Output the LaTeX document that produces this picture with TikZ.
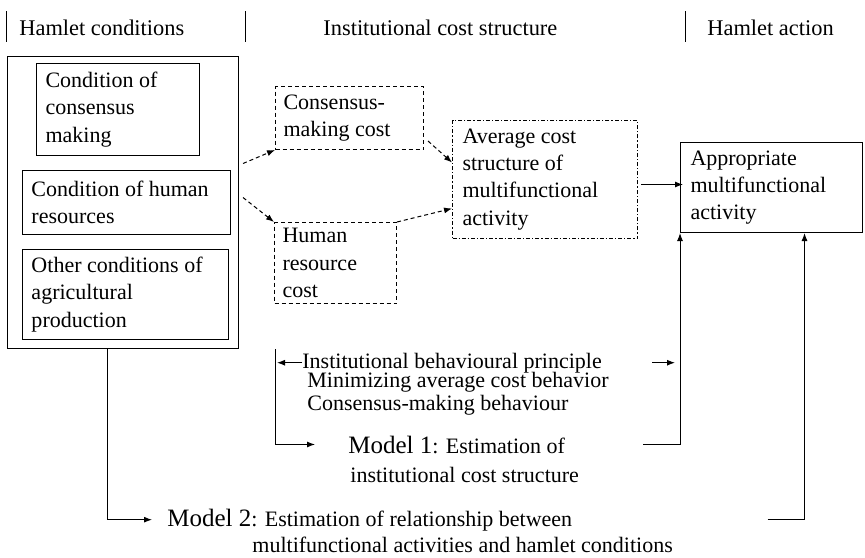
\documentclass[tikz,border=0pt]{standalone}
\usepackage{fontspec}
\setmainfont{Liberation Serif}
\usetikzlibrary{arrows.meta, calc}
\newcommand{\txtfont}{\fontsize{11}{13.6}\selectfont}
\newcommand{\modfont}{\fontsize{12.5}{14}\selectfont}

\begin{document}
\begin{tikzpicture}[x=0.5pt, y=-0.5pt,
  solidbox/.style={draw, line width=0.5pt, anchor=north west, align=flush left, inner xsep=4.5pt, inner ysep=0pt, font=\txtfont},
  dashbox/.style={solidbox, dash pattern=on 2pt off 1.5pt},
  dotbox/.style={solidbox, dash pattern=on 2pt off 1pt on 0.6pt off 1pt},
  arr/.style={line width=0.5pt, -{Latex[length=4pt, width=3pt]}},
  dasharr/.style={arr, dash pattern=on 2pt off 1.5pt},
  linetext/.style={anchor=base west, inner sep=0pt, font=\txtfont},
  headtext/.style={anchor=west, inner sep=0pt, font=\fontsize{11.2}{13}\selectfont}]
\useasboundingbox (0,0) rectangle (865,557);
% column heads
\draw[line width=0.5pt] (6,11) -- (6,42) (245,11) -- (245,42) (685,11) -- (685,42);
\node[headtext] (hcond) at (19,28) {Hamlet conditions};
\node[headtext] (inst) at (323,28) {Institutional cost structure};
\node[headtext] (hact) at (707,28) {Hamlet action};
% hamlet conditions
\node[solidbox, minimum width=115.5pt, minimum height=146pt, inner sep=0pt] (hamlet) at (7,56) {};
\node[solidbox, text width=72.5pt, minimum height=46pt] (consc) at (36,63) {Condition of\\consensus\\making};
\node[solidbox, text width=95pt, minimum height=32pt] (humc) at (22,170) {Condition of human\\resources};
\node[solidbox, text width=94pt, minimum height=45pt] (othc) at (22,249) {Other conditions of\\agricultural\\production};
% cost structure
\node[dashbox, inner xsep=4pt, text width=66pt, minimum height=31.5pt] (cmcost) at (275,86) {Consensus-\\making cost};
\node[dashbox, inner xsep=4pt, text width=53pt, minimum height=40.5pt] (hrcost) at (274,222) {Human\\resource\\cost};
\node[dotbox, inner xsep=5pt, text width=82.5pt, minimum height=59pt] (avgcost) at (452,120) {Average cost\\structure of\\multifunctional\\activity};
% hamlet action
\node[solidbox, inner xsep=5pt, text width=81pt, minimum height=45pt] (appact) at (680,142) {Appropriate\\multifunctional\\activity};
% models
\node[linetext] (prin) at (302,368) {Institutional behavioural principle};
\node[linetext] (minb) at (307,387) {Minimizing average cost behavior};
\node[linetext] (consb) at (307,410) {Consensus-making behaviour};
\node[linetext] (mod1) at (348,453) {{\modfont Model 1}: Estimation of};
\node[linetext] (mod1b) at (350,482) {institutional cost structure};
\node[linetext] (mod2) at (167,526) {{\modfont Model 2}: Estimation of relationship between};
\node[linetext] (mod2b) at (252,552) {multifunctional activities and hamlet conditions};
\coordinate (brk) at (275,349);
% connectors
\draw[dasharr] ([shift={(2pt,19.5pt)}]hamlet.east) -- (cmcost.south west);
\draw[dasharr] ([shift={(2pt,2.5pt)}]hamlet.east) -- (hrcost.north west);
\draw[dasharr] ([shift={(2pt,4.5pt)}]cmcost.south east) -- ([yshift=8.5pt]avgcost.west);
\draw[dasharr] (hrcost.north east) -- ([yshift=-14.5pt]avgcost.west);
\draw[arr] ([shift={(1.5pt,-2.5pt)}]avgcost.east) -- ([shift={(1.5pt,-2.5pt)}]avgcost.east -| appact.west);
\draw[arr] (prin.west) -- ([xshift=1pt]brk |- prin.west);
\draw[arr, shorten >=16.5pt] (brk) |- (mod1.west);
\draw[arr, shorten <=25pt] (prin.east) -- ([xshift=-2.5pt]prin.east -| appact.south west);
\draw[arr, shorten <=39pt] (mod1.east) -| (appact.south west);
\draw[arr, shorten >=7.5pt] ([xshift=-7.75pt]hamlet.south) |- (mod2.west);
\draw[arr, shorten <=97.5pt] (mod2.east) -| ([xshift=16.5pt]appact.south);
\end{tikzpicture}
\end{document}
